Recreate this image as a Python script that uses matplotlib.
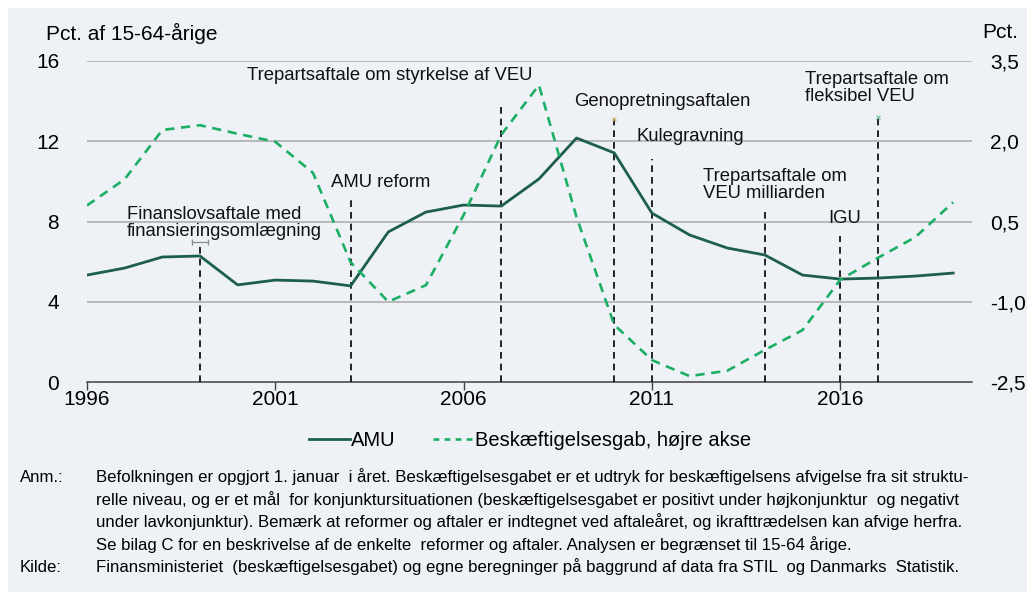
import matplotlib
matplotlib.use("Agg")
import matplotlib.pyplot as plt
from matplotlib.patches import Rectangle
from matplotlib.lines import Line2D

# ---------------- data ----------------
years = list(range(1996, 2020))
amu = [5.33, 5.68, 6.23, 6.28, 4.84, 5.08, 5.03, 4.79, 7.48, 8.47, 8.82, 8.77,
       10.12, 12.16, 11.42, 8.42, 7.33, 6.68, 6.33, 5.33, 5.13, 5.18, 5.28, 5.43]
gap = [0.80, 1.29, 2.21, 2.30, 2.14, 1.99, 1.41, -0.26, -1.00, -0.69, 0.62, 2.12,
       3.05, 0.58, -1.43, -2.09, -2.39, -2.29, -1.90, -1.53, -0.59, -0.18, 0.21, 0.86]

event_years = [1999, 2003, 2007, 2010, 2011, 2014, 2016, 2017]
event_tops = [7.0, 9.17, 13.9, 13.1, 11.1, 8.6, 7.3, 13.2]

ann_labels = ["Finanslovsaftale med\nfinansieringsomlægning", "AMU reform",
              "Trepartsaftale om styrkelse af VEU", "Genopretningsaftalen",
              "Kulegravning", "Trepartsaftale om\nVEU milliarden", "IGU",
              "Trepartsaftale om\nfleksibel VEU"]
ann_x = [1997.06, 2002.48, 2000.25, 2008.94, 2010.6, 2012.36, 2015.68, 2015.07]
ann_y = [7.93, 9.92, 15.3, 14.0, 12.26, 9.82, 8.13, 14.63]

xticks = [1996, 2001, 2006, 2011, 2016]
left_ticks = [0, 4, 8, 12, 16]
right_ticks = [-2.5, -1.0, 0.5, 2.0, 3.5]
right_ticklabels = ["-2,5", "-1,0", "0,5", "2,0", "3,5"]

legend_labels = ["AMU", "Beskæftigelsesgab, højre akse"]
note_label = "Anm.:"
note_lines = [
    "Befolkningen er opgjort 1. januar  i året. Beskæftigelsesgabet er et udtryk for beskæftigelsens afvigelse fra sit struktu-",
    "relle niveau, og er et mål  for konjunktursituationen (beskæftigelsesgabet er positivt under højkonjunktur  og negativt",
    "under lavkonjunktur). Bemærk at reformer og aftaler er indtegnet ved aftaleåret, og ikrafttrædelsen kan afvige herfra.",
    "Se bilag C for en beskrivelse af de enkelte  reformer og aftaler. Analysen er begrænset til 15-64 årige.",
]
source_label = "Kilde:"
source_line = "Finansministeriet  (beskæftigelsesgabet) og egne beregninger på baggrund af data fra STIL  og Danmarks  Statistik."

# ---------------- style ----------------
W, H = 1027, 592
plt.rcParams['font.family'] = ['Liberation Sans', 'DejaVu Sans']
fig = plt.figure(figsize=(W / 100, H / 100), dpi=100)
fig.patch.set_facecolor('white')
fig.patches.append(Rectangle((8 / W, 0), 1, 1 - 8 / H, transform=fig.transFigure,
                             facecolor='#EEF2F6', edgecolor='none', zorder=-10))

C_AMU = '#1d5e4d'
C_GAP = '#1cae64'
GRID = '#a8a8a8'

ax = fig.add_axes([87 / W, 1 - 382 / H, (972 - 87) / W, (382 - 61) / H])
ax.set_facecolor('none')
ax2 = ax.twinx()

ax.set_xlim(1996, 2019.5)
ax.set_ylim(0, 16)
ax2.set_ylim(-2.5, 3.5)

for v in left_ticks[1:]:
    ax.axhline(v, color=GRID, lw=1.1, zorder=0)

for s in ['top', 'left', 'right']:
    ax.spines[s].set_visible(False)
    ax2.spines[s].set_visible(False)
ax2.spines['bottom'].set_visible(False)
ax.spines['bottom'].set_color('#404040')
ax.spines['bottom'].set_linewidth(1.1)

ax.set_xticks(xticks)
ax.set_xticklabels([str(x) for x in xticks])
ax.tick_params(axis='x', direction='out', length=6, width=1, color='#404040',
               labelsize=15, pad=0)
ax.set_yticks(left_ticks)
ax.set_yticklabels([str(v) for v in left_ticks])
ax.tick_params(axis='y', length=0, labelsize=15, pad=20)
ax2.set_yticks(right_ticks)
ax2.set_yticklabels(right_ticklabels)
ax2.tick_params(axis='y', length=0, labelsize=15, pad=13)

# event lines
for yr, top in zip(event_years, event_tops):
    ax.plot([yr, yr], [0, top], color='black', lw=1.2, ls=(0, (4, 3)), zorder=3)
ax.errorbar([event_years[0]], [event_tops[0]], xerr=0.2, fmt='none',
            ecolor='#8c8c8c', elinewidth=0.9, capsize=2.5, zorder=3)
ax.plot([event_years[3]], [event_tops[3]], marker='x', ms=3, mew=0.8, color='#c9b36a', zorder=3)
ax.plot([event_years[7]], [event_tops[7]], marker='x', ms=3, mew=0.8, color='#6cc39a', zorder=3)

# series
ax.plot(years, amu, color=C_AMU, lw=2.0, zorder=5)
ax2.plot(years, gap, color=C_GAP, lw=1.9, dashes=(3.5, 2.5), zorder=5)

# annotations
for lab, x, y in zip(ann_labels, ann_x, ann_y):
    ax.text(x, y, lab, fontsize=13.3, ha='left', va='center', linespacing=1.0,
            color='#111111', zorder=6)

# axis unit labels
fig.text(46 / W, 1 - 33 / H, "Pct. af 15-64-årige", fontsize=15, ha='left', va='center')
fig.text(1018 / W, 1 - 33 / H, "Pct.", fontsize=15, ha='right', va='center')

# legend
handles = [Line2D([], [], color=C_AMU, lw=2.0),
           Line2D([], [], color=C_GAP, lw=1.9, dashes=(2.2, 2.0))]
fig.legend(handles, legend_labels, loc='center', bbox_to_anchor=(530 / W, 1 - 441 / H),
           ncol=2, frameon=False, fontsize=14.5, handlelength=2.0, handletextpad=0.05,
           columnspacing=1.9)

# notes
nfam = ['Liberation Sans Narrow', 'Liberation Sans', 'DejaVu Sans']
nfs = 12.1
ys = [477, 500, 522, 545]
fig.text(20 / W, 1 - ys[0] / H, note_label, fontsize=nfs, family=nfam, ha='left', va='center')
for line, yy in zip(note_lines, ys):
    fig.text(96 / W, 1 - yy / H, line, fontsize=nfs, family=nfam, ha='left', va='center')
fig.text(20 / W, 1 - 567 / H, source_label, fontsize=nfs, family=nfam, ha='left', va='center')
fig.text(96 / W, 1 - 567 / H, source_line, fontsize=nfs, family=nfam, ha='left', va='center')

fig.savefig("out.png", dpi=100, facecolor=fig.get_facecolor())
